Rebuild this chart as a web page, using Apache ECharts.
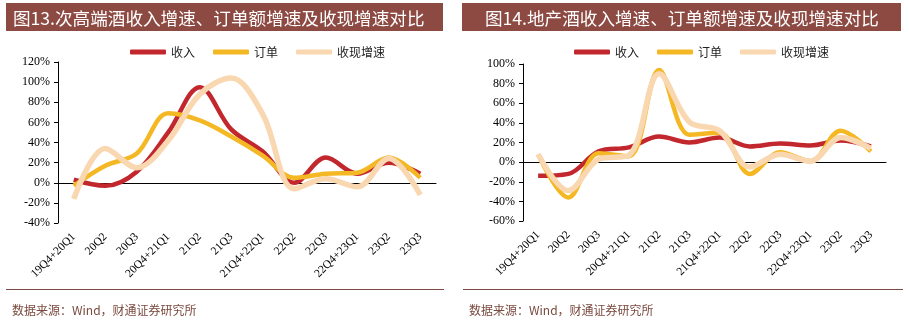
<!DOCTYPE html>
<html><head><meta charset="utf-8">
<script src="https://cdn.jsdelivr.net/npm/echarts@6/dist/echarts.min.js"></script>
<style>html,body{margin:0;padding:0;background:#fff}#c{width:909px;height:327px}</style>
</head><body><div id="c"></div>
<script>
const categories = ['19Q4+20Q1','20Q2','20Q3','20Q4+21Q1','21Q2','21Q3','21Q4+22Q1','22Q2','22Q3','22Q4+23Q1','23Q2','23Q3'];
const seriesNames = ['收入','订单','收现增速'];
// 图13 次高端酒
const leftRevenue = [3, -3, 11, 50, 95, 53, 31, 0, 25, 9, 20, 9];
const leftOrders  = [-3, 17, 29, 69, 62, 46, 27, 5, 9, 10, 25, 5];
const leftCash    = [-16, 34, 15, 42, 88, 104, 68, -6, 4, -4, 24, -12];
// 图14 地产酒
const rightRevenue = [-14, -12, 11, 15, 26, 20, 25, 16, 19, 17, 22, 16];
const rightOrders  = [8, -36, 9, 6, 94, 28, 30, -12, 10, 1, 32, 11];
const rightCash    = [8, -29, 3, 7, 90, 41, 32, -5, 8, 1, 25, 14];
const leftTicks = {min: -40, max: 120, interval: 20};
const rightTicks = {min: -60, max: 100, interval: 20};
const titles = ['图13.次高端酒收入增速、订单额增速及收现增速对比', '图14.地产酒收入增速、订单额增速及收现增速对比'];
const sourceText = '数据来源：Wind，财通证券研究所';

const colors = ['#C1272D', '#F4B825', '#F9D7B0'];
const serif = '"Liberation Serif","Times New Roman",serif';
const cjk = '"Noto Sans CJK SC",sans-serif';

const chart = echarts.init(document.getElementById('c'));

const grids = [
  {left: 58, top: 62, width: 378, height: 161},
  {left: 523, top: 64, width: 363, height: 157}
];
const xAxes = [], yAxes = [], series = [];
const data = [[leftRevenue, leftOrders, leftCash], [rightRevenue, rightOrders, rightCash]];
const ticks = [leftTicks, rightTicks];
for (let g = 0; g < 2; g++) {
  xAxes.push({
    type: 'category', gridIndex: g, data: categories, position: 'bottom',
    axisLine: {onZero: true, lineStyle: {color: '#000', width: 1}},
    axisTick: {inside: true, length: 4, lineStyle: {color: '#000'}},
    axisLabel: {show: false}, splitLine: {show: false}
  });
  xAxes.push({
    type: 'category', gridIndex: g, data: categories, position: 'bottom',
    axisLine: {show: false, onZero: false}, axisTick: {show: false},
    axisLabel: {rotate: 45, margin: 12, interval: 0, fontFamily: serif, fontSize: 11.5, color: '#000'},
    splitLine: {show: false}
  });
  yAxes.push({
    type: 'value', gridIndex: g, min: ticks[g].min, max: ticks[g].max, interval: ticks[g].interval,
    axisLine: {show: true, lineStyle: {color: '#000'}},
    axisTick: {show: true, length: 4, lineStyle: {color: '#000'}},
    axisLabel: {formatter: '{value}%', fontFamily: serif, fontSize: 12, color: '#000', margin: 8},
    splitLine: {show: false}
  });
  for (let s = 0; s < 3; s++) {
    series.push({
      name: seriesNames[s], type: 'line', xAxisIndex: g * 2, yAxisIndex: g,
      data: data[g][s], smooth: 0.35, symbol: 'none',
      lineStyle: {color: colors[s], width: s === 2 ? 5.5 : 4.5}, itemStyle: {color: colors[s]},
      z: 2 + s
    });
  }
}

const legendBase = {
  data: seriesNames, icon: 'roundRect', itemWidth: 36, itemHeight: 5, itemGap: 18,
  textStyle: {fontFamily: cjk, fontSize: 12, color: '#222'}, top: 41
};

const option = {
  animation: false,
  grid: grids,
  xAxis: xAxes,
  yAxis: yAxes,
  series: series,
  legend: [
    Object.assign({}, legendBase, {left: 125}),
    Object.assign({}, legendBase, {left: 569})
  ],
  title: [
    {text: titles[0], left: 8, top: 5, textStyle: {color: '#fff', fontFamily: cjk, fontSize: 17.6, fontWeight: 'normal'}},
    {text: titles[1], left: 480, top: 5, textStyle: {color: '#fff', fontFamily: cjk, fontSize: 17.6, fontWeight: 'normal'}},
    {text: sourceText, left: 7, top: 299, textStyle: {color: '#7A4A3E', fontFamily: cjk, fontSize: 12, fontWeight: 'normal'}},
    {text: sourceText, left: 464, top: 299, textStyle: {color: '#7A4A3E', fontFamily: cjk, fontSize: 12, fontWeight: 'normal'}}
  ],
  graphic: [
    {type: 'rect', left: 6, top: 3, shape: {width: 437, height: 28}, style: {fill: '#8C4A43'}, z: -1},
    {type: 'rect', left: 462, top: 3, shape: {width: 439, height: 28}, style: {fill: '#8C4A43'}, z: -1},
    {type: 'line', shape: {x1: 6, y1: 289.5, x2: 444, y2: 289.5}, style: {stroke: '#7A4A44', lineWidth: 1}},
    {type: 'line', shape: {x1: 463, y1: 289.5, x2: 903, y2: 289.5}, style: {stroke: '#7A4A44', lineWidth: 1}}
  ]
};
chart.setOption(option);
</script>
</body></html>
